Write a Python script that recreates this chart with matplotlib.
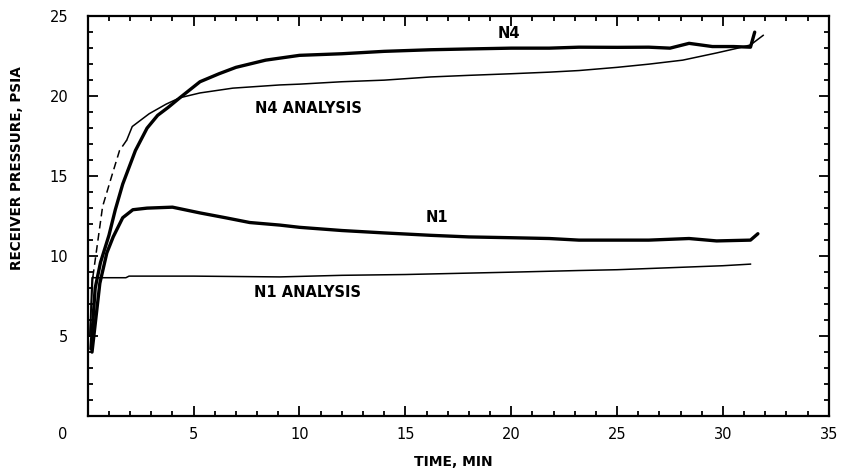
import numpy as np
import matplotlib
matplotlib.use("Agg")
import matplotlib.pyplot as plt
from matplotlib.ticker import MultipleLocator

# N4 test (thick)
n4_t = [0.15, 0.35, 0.6, 1.0, 1.3, 1.65, 2.25, 2.8, 3.3, 3.8, 4.35, 5.3, 6.2, 7.0, 8.4,
        10.0, 12.0, 14.0, 16.2, 18.0, 20.0, 21.8, 23.2, 25.0, 26.5, 27.5, 28.4, 29.5,
        30.5, 31.3, 31.5]
n4_p = [4.2, 8.0, 9.6, 11.3, 12.9, 14.5, 16.6, 18.0, 18.8, 19.3, 19.9, 20.9, 21.4, 21.8,
        22.25, 22.55, 22.65, 22.8, 22.9, 22.95, 23.0, 23.0, 23.06, 23.05, 23.06, 23.0,
        23.3, 23.1, 23.1, 23.06, 24.0]

# N4 analysis (thin, dashed between dash_from and dash_to)
n4a_t = [0.1, 0.24, 0.7, 1.13, 1.5, 1.84, 2.1, 2.9, 3.7, 4.35, 5.3, 6.85, 9.07, 10.0,
         12.0, 14.0, 16.2, 18.0, 20.0, 21.8, 23.2, 25.0, 26.5, 28.1, 29.7, 30.7, 31.3, 31.9]
n4a_p = [5.0, 8.7, 13.1, 15.0, 16.6, 17.25, 18.1, 18.9, 19.5, 19.9, 20.2, 20.5, 20.7,
         20.75, 20.9, 21.0, 21.2, 21.3, 21.4, 21.5, 21.6, 21.8, 22.0, 22.25, 22.7, 23.0,
         23.2, 23.8]
dash_from, dash_to = 0.24, 1.84

# N1 test (thick)
n1_t = [0.2, 0.57, 0.9, 1.2, 1.65, 2.13, 2.8, 4.0, 5.3, 6.5, 7.65, 9.07, 10.0, 12.0,
        14.0, 16.2, 18.0, 20.0, 21.8, 23.2, 25.0, 26.5, 28.4, 29.7, 31.3, 31.65]
n1_p = [4.0, 8.3, 10.2, 11.2, 12.4, 12.9, 13.0, 13.06, 12.7, 12.4, 12.1, 11.94, 11.8,
        11.6, 11.45, 11.3, 11.2, 11.15, 11.1, 11.0, 11.0, 11.0, 11.1, 10.95, 11.0, 11.4]

# N1 analysis (thin)
n1a_t = [0.1, 0.2, 1.8, 1.95, 5.0, 9.07, 12.0, 15.0, 20.1, 23.2, 25.0, 28.0, 30.0, 31.3]
n1a_p = [5.0, 8.65, 8.65, 8.75, 8.75, 8.7, 8.8, 8.85, 9.0, 9.1, 9.15, 9.3, 9.4, 9.5]

xticks = [5, 10, 15, 20, 25, 30, 35]
yticks = [5, 10, 15, 20, 25]

fig = plt.figure(figsize=(8.44, 4.75), dpi=100)
ax = fig.add_axes([0.104, 0.124, 0.878, 0.842])

thick = dict(color="black", lw=2.4, solid_capstyle="round", solid_joinstyle="round")
thin = dict(color="black", lw=1.1)

ax.plot(n4_t, n4_p, **thick)
ax.plot(n1_t, n1_p, **thick)

t = np.array(n4a_t); p = np.array(n4a_p)
lo = t <= dash_from
mid = (t >= dash_from) & (t <= dash_to)
hi = t >= dash_to
ax.plot(t[lo], p[lo], **thin)
ax.plot(t[mid], p[mid], color="black", lw=1.1, dashes=(5, 3))
ax.plot(t[hi], p[hi], **thin)

ax.plot(n1a_t, n1a_p, **thin)

ax.set_xlim(0, 35)
ax.set_ylim(0, 25)
ax.set_xticks(xticks)
ax.set_yticks(yticks)
ax.xaxis.set_minor_locator(MultipleLocator(1))
ax.yaxis.set_minor_locator(MultipleLocator(1))
ax.tick_params(which="both", direction="in", top=True, right=True, width=1.3)
ax.tick_params(which="major", length=7, labelsize=10.5)
ax.tick_params(which="minor", length=3.5)
ax.tick_params(axis="y", which="major", pad=14)
ax.tick_params(axis="x", which="major", pad=8)
for s in ax.spines.values():
    s.set_linewidth(1.6)

# shared origin label
ax.annotate("0", xy=(0, 0), xycoords="data", xytext=(-25, -11), textcoords="offset pixels",
            ha="center", va="top", fontsize=10.5)

lab = dict(fontsize=10.5, fontweight="bold")
ax.text(19.9, 23.9, "N4", ha="center", va="center", **lab)
ax.text(10.4, 19.2, "N4 ANALYSIS", ha="center", va="center", **lab)
ax.text(16.5, 12.4, "N1", ha="center", va="center", **lab)
ax.text(10.4, 7.7, "N1 ANALYSIS", ha="center", va="center", **lab)

fig.text(453 / 844, 1 - 462 / 475, "TIME, MIN", ha="center", va="center",
         fontsize=10, fontweight="bold")
fig.text(17 / 844, 1 - 168 / 475, "RECEIVER PRESSURE, PSIA", ha="center", va="center",
         rotation=90, fontsize=9.8, fontweight="bold")

fig.savefig("out.png", dpi=100)
